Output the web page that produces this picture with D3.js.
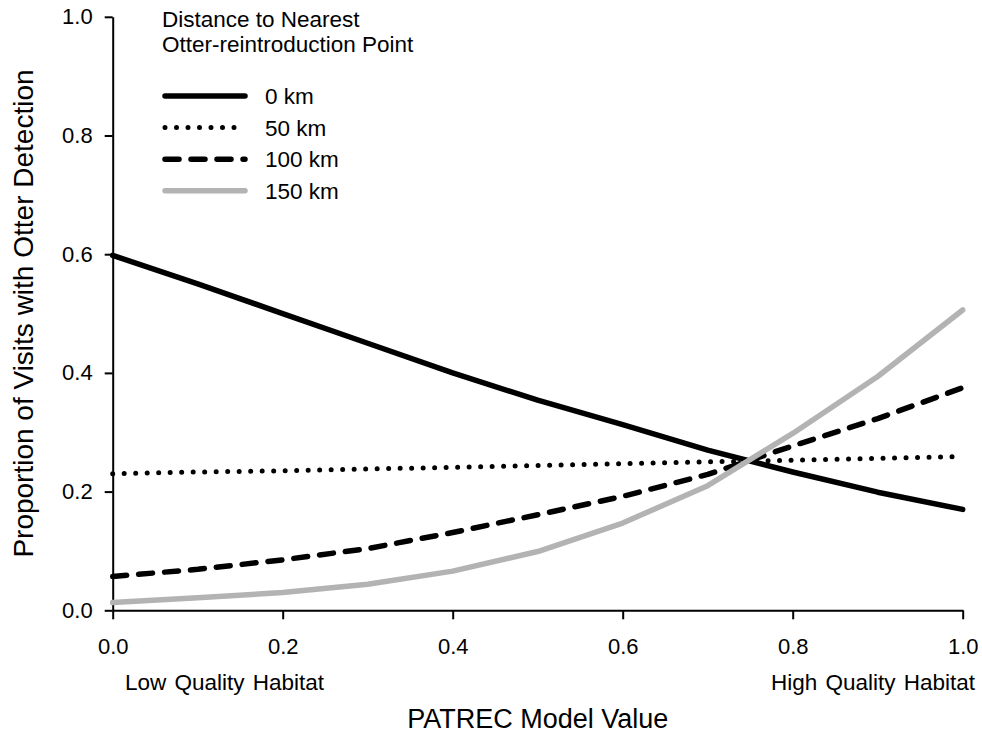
<!DOCTYPE html>
<html>
<head>
<meta charset="utf-8">
<script src="https://cdn.jsdelivr.net/npm/d3@7"></script>
<style>
  body { margin: 0; background: #fff; }
  svg { display: block; font-family: "Liberation Sans", Arial, sans-serif; }
  .axis path, .axis line { stroke: #000; stroke-width: 2; }
  .axis text { font-size: 22px; fill: #000; }
</style>
</head>
<body>
<div id="chart"></div>
<script>
// PATREC model value along the x axis
const patrec = [0, 0.1, 0.2, 0.3, 0.4, 0.5, 0.6, 0.7, 0.8, 0.9, 1.0];

// proportion of visits with otter detection, by distance to reintroduction point
const km0   = [0.598, 0.550, 0.500, 0.450, 0.400, 0.354, 0.313, 0.270, 0.233, 0.199, 0.170];
const km50  = [0.230, 0.233, 0.235, 0.238, 0.241, 0.244, 0.247, 0.250, 0.253, 0.256, 0.259];
const km100 = [0.057, 0.069, 0.085, 0.104, 0.131, 0.161, 0.192, 0.229, 0.277, 0.323, 0.375];
const km150 = [0.013, 0.021, 0.030, 0.044, 0.066, 0.099, 0.147, 0.210, 0.298, 0.394, 0.506];

const seriesNames = ['0 km', '50 km', '100 km', '150 km'];
const xTicks = [0, 0.2, 0.4, 0.6, 0.8, 1.0];
const yTicks = [0, 0.2, 0.4, 0.6, 0.8, 1.0];

const width = 982, height = 738;
const margin = { left: 112.7, right: 19.3, top: 16.8, bottom: 127.7 };

const styles = [
  { stroke: '#000', width: 5.5, dash: null, cap: 'round' },
  { stroke: '#000', width: 5, dash: '0 11.5', cap: 'round' },
  { stroke: '#000', width: 5.5, dash: '14 12', cap: 'round' },
  { stroke: '#b3b3b3', width: 5.5, dash: null, cap: 'round' }
];

const svg = d3.select('#chart').append('svg')
  .attr('width', width)
  .attr('height', height);

const x = d3.scaleLinear().domain([0, 1]).range([margin.left, width - margin.right]);
const y = d3.scaleLinear().domain([0, 1]).range([height - margin.bottom, margin.top]);

// axes
svg.append('g')
  .attr('class', 'axis')
  .attr('transform', 'translate(0,' + y(0) + ')')
  .call(d3.axisBottom(x).tickValues(xTicks).tickFormat(d3.format('.1f'))
    .tickSize(9).tickSizeOuter(0).tickPadding(19));

svg.append('g')
  .attr('class', 'axis')
  .attr('transform', 'translate(' + x(0) + ',0)')
  .call(d3.axisLeft(y).tickValues(yTicks).tickFormat(d3.format('.1f'))
    .tickSize(8).tickSizeOuter(0).tickPadding(12));

// lines
const line = d3.line()
  .x((d, i) => x(patrec[i]))
  .y(d => y(d));

const allSeries = [km0, km50, km100, km150];
svg.append('g')
  .selectAll('path')
  .data(allSeries)
  .enter().append('path')
  .attr('d', line)
  .attr('fill', 'none')
  .attr('stroke', (d, i) => styles[i].stroke)
  .attr('stroke-width', (d, i) => styles[i].width)
  .attr('stroke-dasharray', (d, i) => styles[i].dash)
  .attr('stroke-linecap', (d, i) => styles[i].cap)
  .attr('stroke-linejoin', 'round');

// legend
const legend = svg.append('g').attr('font-size', 22.5);
legend.append('text').attr('x', 162).attr('y', 27).text('Distance to Nearest');
legend.append('text').attr('x', 162).attr('y', 52).text('Otter-reintroduction Point');

const rows = legend.selectAll('g.row')
  .data(seriesNames)
  .enter().append('g')
  .attr('class', 'row')
  .attr('transform', (d, i) => 'translate(0,' + (96 + i * 31.6) + ')');

rows.append('line')
  .attr('x1', 165).attr('x2', 245)
  .attr('stroke', (d, i) => styles[i].stroke)
  .attr('stroke-width', (d, i) => styles[i].width)
  .attr('stroke-dasharray', (d, i) => styles[i].dash)
  .attr('stroke-linecap', (d, i) => styles[i].cap);

rows.append('text')
  .attr('x', 265)
  .attr('dy', '0.36em')
  .text(d => d);

// habitat annotations
svg.append('text')
  .attr('x', 125).attr('y', 690)
  .attr('font-size', 22.5)
  .attr('word-spacing', 2)
  .text('Low Quality Habitat');

svg.append('text')
  .attr('x', 975).attr('y', 690)
  .attr('text-anchor', 'end')
  .attr('font-size', 22.5)
  .attr('word-spacing', 2)
  .text('High Quality Habitat');

// axis titles
svg.append('text')
  .attr('x', (x(0) + x(1)) / 2).attr('y', 728)
  .attr('text-anchor', 'middle')
  .attr('font-size', 27)
  .text('PATREC Model Value');

svg.append('text')
  .attr('transform', 'translate(33,' + (y(0) + y(1)) / 2 + ') rotate(-90)')
  .attr('text-anchor', 'middle')
  .attr('font-size', 28)
  .text('Proportion of Visits with Otter Detection');
</script>
</body>
</html>
